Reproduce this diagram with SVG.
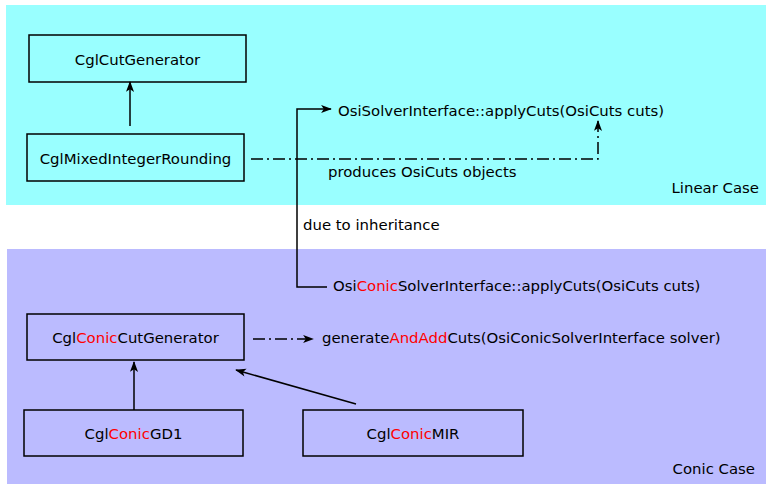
<svg xmlns="http://www.w3.org/2000/svg" width="766" height="484" viewBox="0 0 766 484">
<style>
text{font-family:"DejaVu Sans",sans-serif;font-size:14.9px;fill:#000}
.r{fill:#ff0000}
.k{fill:#000}
.box{fill:none;stroke:#000;stroke-width:1.5}
.ln{fill:none;stroke:#000;stroke-width:1.5}
.dd{stroke-dasharray:12,4,2,4}
.m{text-anchor:middle}
</style>
<defs>
<marker id="ah" viewBox="0 0 12 10" refX="11" refY="5" markerWidth="12" markerHeight="9" markerUnits="userSpaceOnUse" orient="auto">
<path d="M0,0.5 L12,5 L0,9.5 L3,5 Z" fill="#000"/>
</marker>
</defs>
<g id="regions">
<rect x="6" y="5" width="760" height="200" fill="#99ffff"/>
<rect x="7" y="249" width="759" height="235" fill="#bbbbff"/>
<text x="759" y="193" style="text-anchor:end">Linear Case</text>
<text x="755" y="474" style="text-anchor:end">Conic Case</text>
</g>
<g id="n1"><rect class="box" x="29" y="35" width="217" height="47"/><text class="m" x="137.5" y="64.5">CglCutGenerator</text></g>
<g id="n2"><rect class="box" x="27" y="134" width="217" height="47"/><text class="m" x="135.5" y="163.5">CglMixedIntegerRounding</text></g>
<g id="n3"><text x="338" y="116">OsiSolverInterface::applyCuts(OsiCuts cuts)</text></g>
<g id="n4"><text x="333" y="291"><tspan class="k">Osi</tspan><tspan class="r">Conic</tspan><tspan class="k">SolverInterface::applyCuts(OsiCuts cuts)</tspan></text></g>
<g id="n5"><rect class="box" x="27" y="314" width="217" height="46"/><text class="m" x="135.5" y="342.5"><tspan class="k">Cgl</tspan><tspan class="r">Conic</tspan><tspan class="k">CutGenerator</tspan></text></g>
<g id="n6"><text x="322" y="343"><tspan class="k">generate</tspan><tspan class="r">AndAdd</tspan><tspan class="k">Cuts(OsiConicSolverInterface solver)</tspan></text></g>
<g id="n7"><rect class="box" x="24" y="410" width="219" height="46"/><text class="m" x="133.5" y="438.5"><tspan class="k">Cgl</tspan><tspan class="r">Conic</tspan><tspan class="k">GD1</tspan></text></g>
<g id="n8"><rect class="box" x="303" y="410" width="220" height="46"/><text class="m" x="413" y="438.5"><tspan class="k">Cgl</tspan><tspan class="r">Conic</tspan><tspan class="k">MIR</tspan></text></g>
<g id="connectors">
<path class="ln" d="M130,126 L130,82" marker-end="url(#ah)"/>
<path class="ln dd" d="M251,159 L598,159 L598,121" marker-end="url(#ah)"/>
<text x="328" y="177">produces OsiCuts objects</text>
<path class="ln" d="M327,287 L297,287 L297,109 L331,109" marker-end="url(#ah)"/>
<text x="303" y="230">due to inheritance</text>
<path class="ln dd" d="M253,339 L313,339" marker-end="url(#ah)"/>
<path class="ln" d="M134,410 L134,362" marker-end="url(#ah)"/>
<path class="ln" d="M356,404 L236,370" marker-end="url(#ah)"/>
</g>
</svg>
